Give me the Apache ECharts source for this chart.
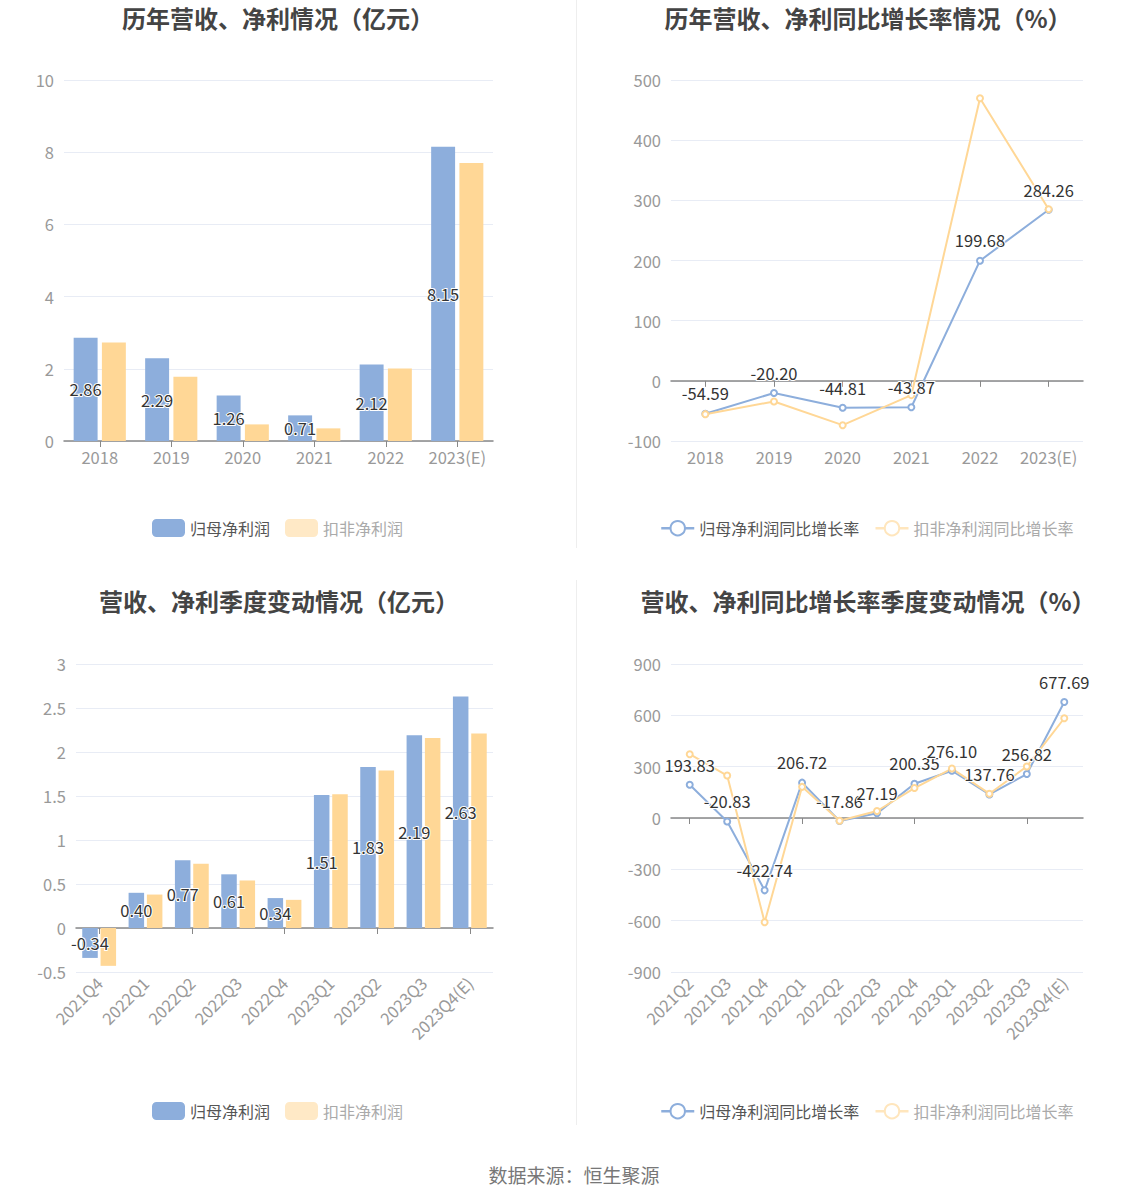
<!DOCTYPE html>
<html><head><meta charset="utf-8">
<script src="https://cdn.jsdelivr.net/npm/echarts@6/dist/echarts.min.js"></script>
<style>html,body{margin:0;padding:0;background:#fff}#c{width:1148px;height:1202px}</style>
</head><body><div id="c"></div>
<script>
// ---- data ----
const yearCats = ['2018', '2019', '2020', '2021', '2022', '2023(E)'];
const yearNetProfit = [2.86, 2.29, 1.26, 0.71, 2.12, 8.15];
const yearDeductProfit = [2.73, 1.78, 0.46, 0.35, 2.01, 7.70];
const yearNetGrowth = [-54.59, -20.20, -44.81, -43.87, 199.68, 284.26];
const yearDeductGrowth = [-55.4, -34.3, -73.7, -23.8, 469.8, 285.1];
const quarterCats = ['2021Q4', '2022Q1', '2022Q2', '2022Q3', '2022Q4', '2023Q1', '2023Q2', '2023Q3', '2023Q4(E)'];
const quarterNetProfit = [-0.34, 0.40, 0.77, 0.61, 0.34, 1.51, 1.83, 2.19, 2.63];
const quarterDeductProfit = [-0.43, 0.38, 0.73, 0.54, 0.32, 1.52, 1.79, 2.16, 2.21];
const growthQuarterCats = ['2021Q2', '2021Q3', '2021Q4', '2022Q1', '2022Q2', '2022Q3', '2022Q4', '2023Q1', '2023Q2', '2023Q3', '2023Q4(E)'];
const quarterNetGrowth = [193.83, -20.83, -422.74, 206.72, -17.86, 27.19, 200.35, 276.10, 137.76, 256.82, 677.69];
const quarterDeductGrowth = [373, 248, -609, 182, -16, 41, 175, 289, 142, 301, 583];

const titles = ['历年营收、净利情况（亿元）', '历年营收、净利同比增长率情况（%）', '营收、净利季度变动情况（亿元）', '营收、净利同比增长率季度变动情况（%）'];
const barNames = ['归母净利润', '扣非净利润'];
const lineNames = ['归母净利润同比增长率', '扣非净利润同比增长率'];
const sourceText = '数据来源：恒生聚源';

// ---- style ----
const BLUE = '#8DAEDC';
const ORANGE = '#FFD796';
const FONT = '"Noto Sans CJK SC", "Noto Sans", sans-serif';
const fmt2 = p => Number(p.value).toFixed(2);
const labelStyle = { color: '#333', fontSize: 16.5, fontFamily: FONT, textBorderColor: '#fff', textBorderWidth: 2 };

function xAxes(gridIndex, data, rotate) {
  return [
    { type: 'category', gridIndex, data, position: 'bottom',
      axisLine: { show: false, onZero: false }, axisTick: { show: false },
      axisLabel: { color: '#999', fontSize: 16.5, fontFamily: FONT, rotate: rotate, margin: 8, interval: 0 } },
    { type: 'category', gridIndex, data, position: 'top',
      axisLine: { show: true, onZero: true, lineStyle: { color: '#888', width: 1.5 } },
      axisTick: { show: true, alignWithLabel: true, inside: true, length: 6, lineStyle: { color: '#888' } },
      axisLabel: { show: false }, splitLine: { show: false } }
  ];
}
function yAxis(gridIndex, min, max, interval) {
  return { type: 'value', gridIndex, min, max, interval,
    axisLine: { show: false }, axisTick: { show: false },
    axisLabel: { color: '#999', fontSize: 16.5, fontFamily: FONT, margin: 10 },
    splitLine: { lineStyle: { color: '#E8ECF5', width: 1 } } };
}
function barSeries(xi, yi, n, d) {
  return [
    { name: barNames[0], type: 'bar', xAxisIndex: xi, yAxisIndex: yi, data: n,
      itemStyle: { color: BLUE }, barGap: '18%', barCategoryGap: '27%',
      label: Object.assign({ show: true, position: 'inside', formatter: fmt2 }, labelStyle) },
    { name: barNames[1], type: 'bar', xAxisIndex: xi, yAxisIndex: yi, data: d,
      itemStyle: { color: ORANGE }, barGap: '18%', barCategoryGap: '27%' }
  ];
}
function lineSeries(xi, yi, n, d) {
  return [
    { name: lineNames[0], type: 'line', xAxisIndex: xi, yAxisIndex: yi, data: n,
      symbol: 'emptyCircle', symbolSize: 6, lineStyle: { color: BLUE, width: 2 },
      itemStyle: { color: BLUE, borderWidth: 2 },
      label: Object.assign({ show: true, position: 'top', distance: 8, formatter: fmt2 }, labelStyle) },
    { name: lineNames[1], type: 'line', xAxisIndex: xi, yAxisIndex: yi, data: d,
      symbol: 'emptyCircle', symbolSize: 6, lineStyle: { color: ORANGE, width: 2 },
      itemStyle: { color: ORANGE, borderWidth: 2 } }
  ];
}
function legend(names, left, top, isLine) {
  let first, second;
  if (isLine) {
    first = { name: names[0], itemStyle: { color: BLUE, borderColor: BLUE, borderWidth: 2.5 },
      lineStyle: { color: BLUE, width: 2.5, type: 'solid' }, textStyle: { color: '#555' } };
    second = { name: names[1], itemStyle: { color: '#FFE6BD', borderColor: '#FFE6BD', borderWidth: 2.5 },
      lineStyle: { color: '#FFE6BD', width: 2.5, type: 'solid' }, textStyle: { color: '#AAA' } };
  } else {
    first = { name: names[0], itemStyle: { color: BLUE }, textStyle: { color: '#555' } };
    second = { name: names[1], itemStyle: { color: '#FFE9C6' }, textStyle: { color: '#AAA' } };
  }
  const l = { data: [first, second], left, top, padding: 0, itemGap: 15,
    itemWidth: 33, itemHeight: 18, textStyle: { fontSize: 16, fontFamily: FONT }, selectedMode: false };
  if (!isLine) l.icon = 'roundRect';
  return l;
}

const chart = echarts.init(document.getElementById('c'), null, { renderer: 'svg' });
const titleStyle = { fontSize: 24, fontWeight: 'bold', color: '#444', fontFamily: FONT };
const option = {
  backgroundColor: '#fff',
  animation: false,
  title: [
    { text: titles[0], left: 278, top: 5, padding: 0, textAlign: 'center', textStyle: titleStyle },
    { text: titles[1], left: 868, top: 5, padding: 0, textAlign: 'center', textStyle: titleStyle },
    { text: titles[2], left: 279, top: 588, padding: 0, textAlign: 'center', textStyle: titleStyle },
    { text: titles[3], left: 868, top: 588, padding: 0, textAlign: 'center', textStyle: titleStyle },
    { text: sourceText, left: 574, top: 1165, padding: 0, textAlign: 'center',
      textStyle: { fontSize: 19, fontWeight: 'normal', color: '#777', fontFamily: FONT } }
  ],
  graphic: [
    { type: 'line', shape: { x1: 576.5, y1: 0, x2: 576.5, y2: 548 }, style: { stroke: '#EEEEEE', lineWidth: 1 } },
    { type: 'line', shape: { x1: 576.5, y1: 580, x2: 576.5, y2: 1125 }, style: { stroke: '#EEEEEE', lineWidth: 1 } }
  ],
  legend: [
    legend(barNames, 152, 519, false),
    legend(lineNames, 660, 520, true),
    legend(barNames, 152, 1102, false),
    legend(lineNames, 660, 1103, true)
  ],
  grid: [
    { left: 64, width: 429, top: 80, height: 361 },
    { left: 671, width: 412, top: 80, height: 361 },
    { left: 76, width: 417, top: 664, height: 308 },
    { left: 671, width: 412, top: 664, height: 308 }
  ],
  xAxis: [].concat(
    xAxes(0, yearCats, 0), xAxes(1, yearCats, 0),
    xAxes(2, quarterCats, 45), xAxes(3, growthQuarterCats, 45)
  ),
  yAxis: [
    yAxis(0, 0, 10, 2),
    yAxis(1, -100, 500, 100),
    yAxis(2, -0.5, 3, 0.5),
    yAxis(3, -900, 900, 300)
  ],
  series: [].concat(
    barSeries(0, 0, yearNetProfit, yearDeductProfit),
    lineSeries(2, 1, yearNetGrowth, yearDeductGrowth),
    barSeries(4, 2, quarterNetProfit, quarterDeductProfit),
    lineSeries(6, 3, quarterNetGrowth, quarterDeductGrowth)
  )
};
chart.setOption(option);
</script></body></html>
